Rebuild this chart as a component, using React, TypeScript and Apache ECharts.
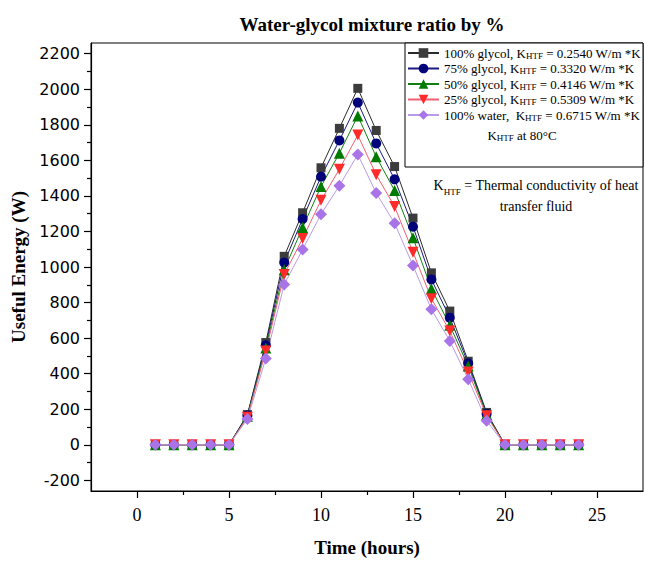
import React, { useEffect, useRef } from "react";
import * as echarts from "echarts";

const hours = [1, 2, 3, 4, 5, 6, 7, 8, 9, 10, 11, 12, 13, 14, 15, 16, 17, 18, 19, 20, 21, 22, 23, 24];
const glycol100 = [0, 0, 0, 0, 0, 170, 575, 1060, 1305, 1558, 1780, 2005, 1768, 1565, 1275, 967, 752, 470, 182, 0, 0, 0, 0, 0];
const glycol75 = [0, 0, 0, 0, 0, 165, 560, 1025, 1270, 1508, 1712, 1925, 1695, 1493, 1227, 930, 715, 458, 175, 0, 0, 0, 0, 0];
const glycol50 = [0, 0, 0, 0, 0, 160, 545, 985, 1222, 1453, 1640, 1850, 1620, 1430, 1164, 878, 672, 443, 170, 0, 0, 0, 0, 0];
const glycol25 = [0, 0, 0, 0, 0, 155, 527, 958, 1160, 1375, 1550, 1742, 1519, 1340, 1083, 822, 640, 410, 163, 0, 0, 0, 0, 0];
const water100 = [0, 0, 0, 0, 0, 145, 485, 902, 1098, 1297, 1457, 1633, 1416, 1246, 1008, 762, 584, 369, 135, 0, 0, 0, 0, 0];

const seriesNames = [
  "100% glycol, KHTF = 0.2540 W/m *K",
  "75% glycol, KHTF = 0.3320 W/m *K",
  "50% glycol, KHTF = 0.4146 W/m *K",
  "25% glycol, KHTF = 0.5309 W/m *K",
  "100% water,  KHTF = 0.6715 W/m *K",
];
const legendLabels = [
  "100% glycol, K{sub|HTF} = 0.2540 W/m *K",
  "75% glycol, K{sub|HTF} = 0.3320 W/m *K",
  "50% glycol, K{sub|HTF} = 0.4146 W/m *K",
  "25% glycol, K{sub|HTF} = 0.5309 W/m *K",
  "100% water,  K{sub|HTF} = 0.6715 W/m *K",
];
const seriesValues = [glycol100, glycol75, glycol50, glycol25, water100];

const xMajorTicks = [0, 5, 10, 15, 20, 25];
const xMinorTicks = [2.5, 7.5, 12.5, 17.5, 22.5];
const yMajorTicks = [-200, 0, 200, 400, 600, 800, 1000, 1200, 1400, 1600, 1800, 2000, 2200];
const yMinorTicks = [-100, 100, 300, 500, 700, 900, 1100, 1300, 1500, 1700, 1900, 2100];

const titleText = "Water-glycol mixture ratio by %";
const xName = "Time (hours)";
const yName = "Useful Energy (W)";
const noteTemp = "K{sub|HTF} at 80°C";
const noteDef = "K{sub|HTF} = Thermal conductivity of heat\ntransfer fluid";

const SERIF = "'Liberation Serif', 'Times New Roman', serif";
const SANS = "'DejaVu Sans', sans-serif";

const styles = [
  { symbol: "rect", size: 9, rotate: 0, fill: "#3c3c3c", line: "#2a2a2a" },
  { symbol: "circle", size: 10, rotate: 0, fill: "#00007a", line: "#1a1a80" },
  { symbol: "triangle", size: 11, rotate: 0, fill: "#007a00", line: "#108010" },
  { symbol: "triangle", size: 11, rotate: 180, fill: "#ff2a2a", line: "#f06070" },
  { symbol: "diamond", size: 12, rotate: 0, fill: "#a874e8", line: "#b99ae6" },
];

export default function App() {
  const ref = useRef<HTMLDivElement>(null);
  useEffect(() => {
    document.body.style.margin = "0";
    if (!ref.current) return;
    const chart = echarts.init(ref.current, null, { renderer: "svg" });
    const series = seriesValues.map((vals, i) => ({
      name: seriesNames[i],
      type: "line",
      xAxisIndex: 0,
      yAxisIndex: 0,
      data: hours.map((h, j) => [h, vals[j]]),
      symbol: styles[i].symbol,
      symbolSize: styles[i].size,
      symbolRotate: styles[i].rotate,
      itemStyle: { color: styles[i].fill, borderWidth: 0 },
      lineStyle: { color: styles[i].line, width: 1 },
      showAllSymbol: true,
    }));
    const subRich = {
      sub: { fontSize: 9, fontFamily: SERIF, lineHeight: 9, verticalAlign: "bottom", color: "#000" },
    };
    const tickStyle = { color: "#000", width: 1.2 };
    chart.setOption({
      animation: false,
      backgroundColor: "#fff",
      title: {
        text: titleText,
        left: 367,
        textAlign: "center",
        top: 10,
        textStyle: { fontFamily: SERIF, fontSize: 19, fontWeight: "bold", color: "#000" },
      },
      grid: {
        left: 91,
        right: 2,
        top: 43,
        bottom: 71,
        show: true,
        borderColor: "#000",
        borderWidth: 1,
        backgroundColor: "transparent",
      },
      legend: {
        orient: "vertical",
        left: 407,
        top: 46,
        padding: 0,
        itemGap: 1.5,
        itemWidth: 31,
        itemHeight: 12,
        data: seriesNames,
        formatter: (name: string) => legendLabels[seriesNames.indexOf(name)],
        textStyle: {
          fontFamily: SERIF,
          fontSize: 13,
          color: "#000",
          lineHeight: 14,
          rich: subRich,
        },
      },
      xAxis: [
        {
          type: "value",
          min: -2.5,
          max: 27.5,
          position: "bottom",
          name: xName,
          nameLocation: "middle",
          nameGap: 47,
          nameTextStyle: { fontFamily: SERIF, fontSize: 19, fontWeight: "bold", color: "#000" },
          axisLine: { show: true, onZero: false, lineStyle: tickStyle },
          axisTick: { show: true, inside: false, length: 7, customValues: xMajorTicks, lineStyle: tickStyle },
          axisLabel: {
            customValues: xMajorTicks,
            margin: 15,
            fontFamily: SERIF,
            fontSize: 18,
            color: "#000",
            formatter: (v: number) => String(v),
          },
          splitLine: { show: false },
        },
        {
          type: "value",
          min: -2.5,
          max: 27.5,
          position: "bottom",
          axisLine: { show: false, onZero: false },
          axisTick: { show: true, inside: false, length: 4, customValues: xMinorTicks, lineStyle: tickStyle },
          axisLabel: { show: false },
          splitLine: { show: false },
        },
      ],
      yAxis: [
        {
          type: "value",
          min: -260,
          max: 2260,
          position: "left",
          name: yName,
          nameLocation: "middle",
          nameGap: 60,
          nameTextStyle: { fontFamily: SERIF, fontSize: 19, fontWeight: "bold", color: "#000" },
          axisLine: { show: true, onZero: false, lineStyle: tickStyle },
          axisTick: { show: true, inside: false, length: 7, customValues: yMajorTicks, lineStyle: tickStyle },
          axisLabel: {
            customValues: yMajorTicks,
            margin: 11,
            fontFamily: SANS,
            fontSize: 16,
            color: "#000",
            formatter: (v: number) => String(v),
          },
          splitLine: { show: false },
        },
        {
          type: "value",
          min: -260,
          max: 2260,
          position: "left",
          axisLine: { show: false, onZero: false },
          axisTick: { show: true, inside: false, length: 4, customValues: yMinorTicks, lineStyle: tickStyle },
          axisLabel: { show: false },
          splitLine: { show: false },
        },
      ],
      graphic: [
        {
          type: "rect",
          shape: { x: 405, y: 43, width: 238, height: 124 },
          style: { fill: "#fff", stroke: "#000", lineWidth: 1 },
          z: 0,
          silent: true,
        },
        {
          type: "text",
          x: 522,
          y: 135,
          z: 10,
          style: {
            text: noteTemp,
            fontFamily: SERIF,
            fontSize: 13,
            fill: "#000",
            align: "center",
            verticalAlign: "middle",
            lineHeight: 14,
            rich: subRich,
          },
        },
        {
          type: "text",
          x: 536,
          y: 196,
          z: 10,
          style: {
            text: noteDef,
            fontFamily: SERIF,
            fontSize: 14,
            fill: "#000",
            align: "center",
            verticalAlign: "middle",
            lineHeight: 21,
            rich: {
              sub: { fontSize: 9, fontFamily: SERIF, lineHeight: 10, verticalAlign: "bottom", fill: "#000" },
            },
          },
        },
      ],
      series,
    });
    return () => chart.dispose();
  }, []);
  return <div ref={ref} style={{ width: 645, height: 562 }} />;
}
